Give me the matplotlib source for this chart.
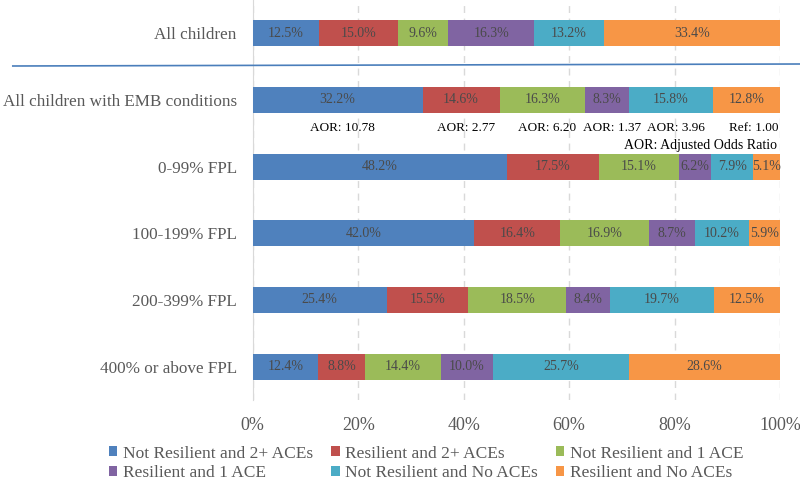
import matplotlib
matplotlib.use('Agg')
import numpy as np
import matplotlib.pyplot as plt
from matplotlib.patches import Patch
from matplotlib.lines import Line2D

categorias = ['All children', 'All children with EMB conditions', '0-99% FPL',
              '100-199% FPL', '200-399% FPL', '400% or above FPL']
series = ['Not Resilient and 2+ ACEs', 'Resilient and 2+ ACEs', 'Not Resilient and 1 ACE',
          'Resilient and 1 ACE', 'Not Resilient and No ACEs', 'Resilient and No ACEs']
colores = ['#4F81BD', '#C0504D', '#9BBB59', '#8064A2', '#4BACC6', '#F79646']

no_res_2 = [12.5, 32.2, 48.2, 42.0, 25.4, 12.4]
res_2 = [15.0, 14.6, 17.5, 16.4, 15.5, 8.8]
no_res_1 = [9.6, 16.3, 15.1, 16.9, 18.5, 14.4]
res_1 = [16.3, 8.3, 6.2, 8.7, 8.4, 10.0]
no_res_0 = [13.2, 15.8, 7.9, 10.2, 19.7, 25.7]
res_0 = [33.4, 12.8, 5.1, 5.9, 12.5, 28.6]

aor = ['AOR: 10.78', 'AOR: 2.77', 'AOR: 6.20', 'AOR: 1.37', 'AOR: 3.96', 'Ref: 1.00']

plt.rcParams['font.family'] = ['Liberation Serif', 'DejaVu Serif']

datos = np.array([no_res_2, res_2, no_res_1, res_1, no_res_0, res_0])
totales = datos.sum(axis=0)
pct = datos / totales * 100

fig = plt.figure(figsize=(8, 4.83), dpi=100)
ax = fig.add_axes([0.316, 0.172, 0.659, 0.828])

y = np.arange(len(categorias))
izq = np.zeros(len(categorias))
for i in range(len(series)):
    ax.barh(y, pct[i], left=izq, height=0.39, color=colores[i], zorder=3)
    for j in range(len(categorias)):
        ax.text(izq[j] + pct[i][j] / 2, y[j], '%.1f%%' % datos[i][j],
                ha='center', va='center', fontsize=10, color='#4A4A4A', zorder=4)
    izq = izq + pct[i]

# AOR etiquetas bajo la barra EMB
izq = 0
for i in range(len(series)):
    centro = izq + pct[i][1] / 2
    if i < len(series) - 1:
        ax.text(centro + 0.9, 1.42, aor[i], ha='center', va='center', fontsize=9.5, color='black')
    else:
        ax.text(99.8, 1.42, aor[i], ha='right', va='center', fontsize=9.5, color='black')
    izq = izq + pct[i][1]
ax.text(99.5, 1.69, 'AOR: Adjusted Odds Ratio', ha='right', va='center', fontsize=10, color='black')

ax.set_xlim(0, 100)
ax.set_ylim(5.5, -0.5)
ax.set_yticks(y)
ax.set_yticklabels(categorias, fontsize=12.3, color='#595959')
ax.set_xticks([0, 20, 40, 60, 80, 100])
ax.set_xticklabels(['0%', '20%', '40%', '60%', '80%', '100%'], fontsize=13, color='#595959')
ax.tick_params(axis='both', length=0)
ax.tick_params(axis='x', pad=12)
ax.tick_params(axis='y', pad=11.5)
for s in ['top', 'right', 'bottom']:
    ax.spines[s].set_visible(False)
ax.spines['left'].set_color('#D9D9D9')
ax.grid(axis='x', color='#D9D9D9', linestyle=(0, (5, 4)), linewidth=1, zorder=0)

# linea separadora
fig.add_artist(Line2D([0.016, 1.0], [1 - 66 / 483, 1 - 64 / 483], color='#4A7EBB', linewidth=1.2))

manijas = [Patch(facecolor=c) for c in colores]
orden = [0, 3, 1, 4, 2, 5]
fig.legend([manijas[k] for k in orden], [series[k] for k in orden], ncol=3,
           loc='lower left', bbox_to_anchor=(0.125, -0.014), frameon=False, borderpad=0,
           fontsize=12.5, handlelength=0.5, handleheight=0.5, handletextpad=0.3,
           columnspacing=1.05, labelspacing=0.2, labelcolor='#595959')

plt.savefig('out.png', dpi=100)
